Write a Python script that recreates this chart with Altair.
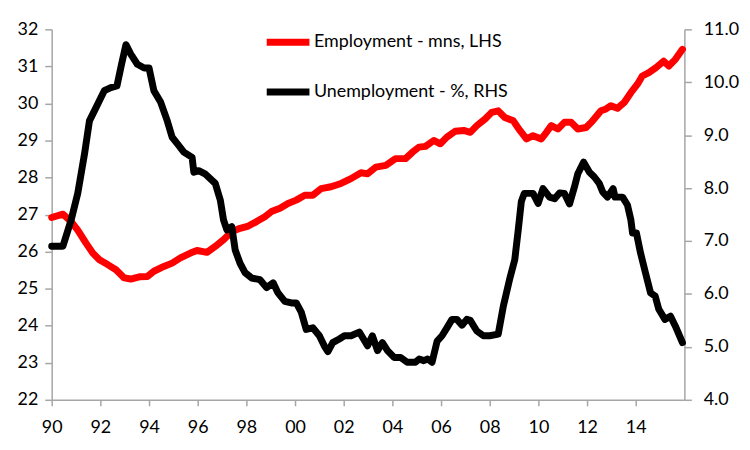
import altair as alt
import pandas as pd

# Employment (millions, left axis)
emp_year = [1990.0, 1990.46, 1990.8, 1991.07, 1991.41, 1991.69, 1991.96, 1992.3, 1992.64, 1992.98,
            1993.25, 1993.6, 1993.93, 1994.2, 1994.61, 1994.95, 1995.29, 1995.7, 1995.97, 1996.38,
            1996.72, 1997.06, 1997.4, 1997.74, 1998.08, 1998.42, 1998.76, 1999.03, 1999.38, 1999.71,
            2000.05, 2000.4, 2000.73, 2001.07, 2001.48, 2001.89, 2002.3, 2002.71, 2002.98, 2003.32,
            2003.73, 2004.13, 2004.54, 2004.82, 2005.09, 2005.36, 2005.7, 2005.97, 2006.24, 2006.58,
            2006.93, 2007.2, 2007.47, 2007.81, 2008.08, 2008.35, 2008.62, 2008.97, 2009.24, 2009.51,
            2009.78, 2010.12, 2010.33, 2010.53, 2010.8, 2011.07, 2011.35, 2011.62, 2011.96, 2012.23,
            2012.57, 2012.78, 2012.98, 2013.25, 2013.52, 2013.8, 2014.07, 2014.27, 2014.54, 2014.82,
            2015.15, 2015.36, 2015.63, 2015.92]
emp_value = [26.92, 27.01, 26.81, 26.58, 26.23, 25.96, 25.78, 25.65, 25.51, 25.29,
             25.26, 25.32, 25.33, 25.47, 25.6, 25.69, 25.83, 25.96, 26.03, 25.98,
             26.14, 26.32, 26.54, 26.63, 26.69, 26.81, 26.94, 27.08, 27.17, 27.3,
             27.39, 27.52, 27.52, 27.7, 27.75, 27.84, 27.97, 28.13, 28.1, 28.28,
             28.33, 28.51, 28.51, 28.68, 28.82, 28.84, 29.0, 28.91, 29.09, 29.25,
             29.27, 29.22, 29.4, 29.58, 29.76, 29.8, 29.62, 29.53, 29.27, 29.04,
             29.13, 29.04, 29.22, 29.4, 29.31, 29.49, 29.49, 29.31, 29.35, 29.53,
             29.8, 29.85, 29.94, 29.87, 30.02, 30.29, 30.52, 30.74, 30.83, 30.96,
             31.14, 31.01, 31.19, 31.46]

# Unemployment rate (%, right axis)
unemp_year = [1990.0, 1990.46, 1990.8, 1991.07, 1991.35, 1991.55, 1991.82, 1992.16, 1992.43, 1992.68,
              1992.87, 1993.05, 1993.25, 1993.52, 1993.8, 1994.0, 1994.2, 1994.48, 1994.75, 1994.95,
              1995.16, 1995.43, 1995.77, 1995.84, 1996.04, 1996.3, 1996.72, 1996.93, 1997.06, 1997.2,
              1997.4, 1997.54, 1997.74, 1997.95, 1998.22, 1998.56, 1998.83, 1999.1, 1999.3, 1999.58,
              1999.85, 2000.05, 2000.26, 2000.46, 2000.73, 2001.0, 2001.2, 2001.35, 2001.55, 2001.82,
              2002.03, 2002.3, 2002.64, 2002.98, 2003.18, 2003.39, 2003.59, 2003.8, 2004.07, 2004.34,
              2004.61, 2004.95, 2005.1, 2005.29, 2005.45, 2005.63, 2005.84, 2006.04, 2006.24, 2006.45,
              2006.65, 2006.86, 2007.06, 2007.2, 2007.47, 2007.74, 2008.0, 2008.35, 2008.56, 2008.83,
              2009.03, 2009.17, 2009.3, 2009.42, 2009.78, 2009.99, 2010.19, 2010.46, 2010.67, 2010.87,
              2011.07, 2011.28, 2011.48, 2011.62, 2011.86, 2012.1, 2012.3, 2012.5, 2012.64, 2012.84,
              2013.07, 2013.15, 2013.46, 2013.66, 2013.8, 2013.87, 2014.03, 2014.2, 2014.4, 2014.61,
              2014.8, 2014.95, 2015.2, 2015.43, 2015.63, 2015.92]
unemp_value = [6.9, 6.9, 7.4, 7.9, 8.65, 9.27, 9.52, 9.84, 9.9, 9.93,
               10.34, 10.71, 10.53, 10.34, 10.27, 10.27, 9.84, 9.62, 9.27, 8.96,
               8.84, 8.68, 8.58, 8.3, 8.33, 8.27, 8.09, 7.77, 7.4, 7.21,
               7.27, 6.83, 6.58, 6.4, 6.3, 6.27, 6.12, 6.21, 6.02, 5.86,
               5.83, 5.83, 5.65, 5.33, 5.36, 5.21, 5.02, 4.91, 5.08, 5.15,
               5.21, 5.21, 5.28, 5.02, 5.21, 4.93, 5.08, 4.93, 4.8, 4.8,
               4.71, 4.71, 4.77, 4.74, 4.77, 4.71, 5.11, 5.21, 5.36, 5.52,
               5.52, 5.41, 5.52, 5.5, 5.3, 5.21, 5.21, 5.24, 5.77, 6.3,
               6.65, 7.2, 7.75, 7.9, 7.9, 7.71, 7.99, 7.83, 7.8, 7.91,
               7.9, 7.7, 8.02, 8.27, 8.49, 8.3, 8.21, 8.09, 7.93, 7.83,
               7.99, 7.83, 7.83, 7.68, 7.4, 7.15, 7.15, 6.77, 6.4, 6.02,
               5.96, 5.71, 5.52, 5.58, 5.39, 5.08]

series_names = ["Employment - mns, LHS", "Unemployment - %, RHS"]
series_colors = ["#ff0000", "#000000"]
x_ticks = list(range(1990, 2016, 2))

emp_df = pd.DataFrame({"year": emp_year, "value": emp_value, "series": series_names[0]})
unemp_df = pd.DataFrame({"year": unemp_year, "value": unemp_value, "series": series_names[1]})

FONT = "Lato"
AXIS_COLOR = "#a6a6a6"
FS = 18
LW = 7

x_enc = alt.X("year:Q",
              scale=alt.Scale(domain=[1990, 2016], nice=False, zero=False),
              axis=alt.Axis(values=x_ticks, labelExpr="format(datum.value % 100, '02d')",
                            labelFlush=False, labelOverlap=False,
                            title=None, grid=False, domainColor=AXIS_COLOR, tickColor=AXIS_COLOR,
                            domainWidth=1.5, tickWidth=1.5, tickSize=6, labelPadding=13,
                            labelFontSize=FS, labelFont=FONT, labelColor="#000000"))

color_enc = alt.Color("series:N",
                      scale=alt.Scale(domain=series_names, range=series_colors),
                      legend=alt.Legend(title=None, orient="none", legendX=213, legendY=-12,
                                        symbolType="stroke", symbolSize=1849, symbolStrokeWidth=LW,
                                        rowPadding=11, labelFontSize=FS, labelFont=FONT,
                                        labelColor="#000000", labelOffset=1, padding=0,
                                        labelLimit=400))

emp_line = alt.Chart(emp_df).mark_line(strokeWidth=LW, strokeJoin="round", strokeCap="round").encode(
    x=x_enc,
    y=alt.Y("value:Q", scale=alt.Scale(domain=[22, 32], nice=False, zero=False),
            axis=alt.Axis(values=list(range(22, 33)), title=None, grid=False, orient="left",
                          domainColor=AXIS_COLOR, tickColor=AXIS_COLOR, domainWidth=1.5,
                          tickWidth=1.5, tickSize=7, labelPadding=7, labelFontSize=FS,
                          labelFont=FONT, labelColor="#000000")),
    color=color_enc,
)

unemp_line = alt.Chart(unemp_df).mark_line(strokeWidth=LW, strokeJoin="round", strokeCap="round").encode(
    x=x_enc,
    y=alt.Y("value:Q", scale=alt.Scale(domain=[4, 11], nice=False, zero=False),
            axis=alt.Axis(values=list(range(4, 12)), format=".1f", title=None, grid=False,
                          orient="right", domainColor=AXIS_COLOR, tickColor=AXIS_COLOR,
                          domainWidth=1.5, tickWidth=1.5, tickSize=7, labelPadding=12,
                          labelFontSize=FS, labelFont=FONT, labelColor="#000000")),
    color=color_enc,
)

chart = alt.layer(emp_line, unemp_line).resolve_scale(y="independent").properties(
    width=637, height=373,
    autosize=alt.AutoSizeParams(type="none"),
    padding={"left": 44, "top": 20, "right": 58, "bottom": 40},
).configure_view(stroke=None)

chart.save("out.html", embed_options={"renderer": "svg", "actions": False})
